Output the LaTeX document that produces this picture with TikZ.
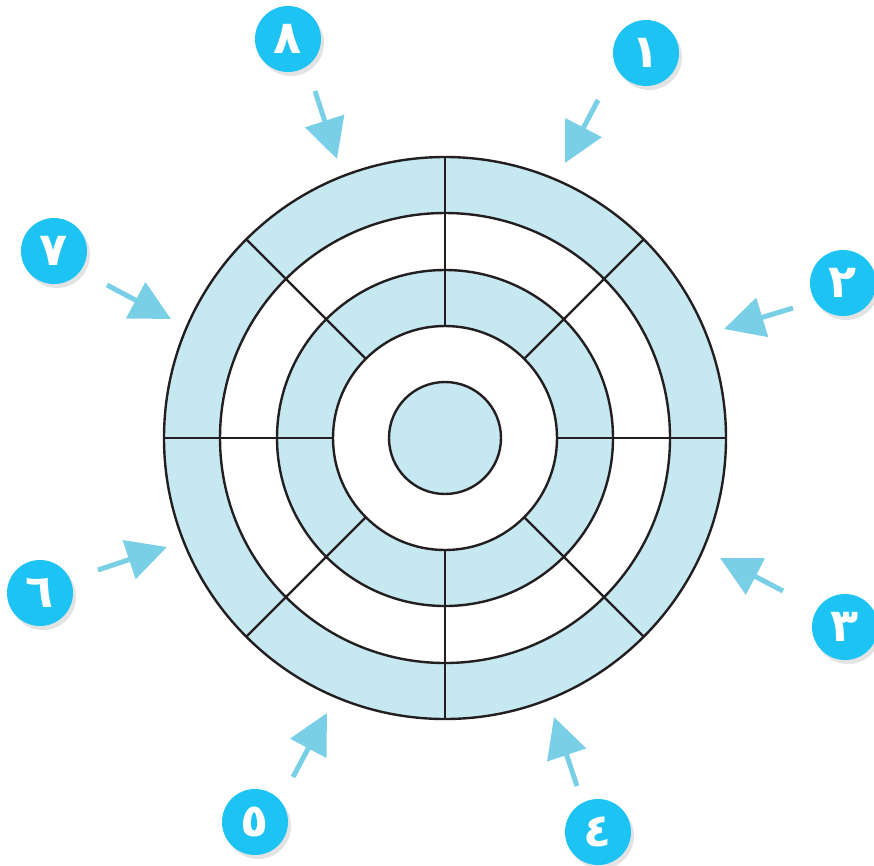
\documentclass[tikz,border=0pt]{standalone}
\usepackage{fontspec}
\newfontfamily\arabicfont[Script=Arabic]{DejaVu Sans}
\TeXXeTstate=1
\usetikzlibrary{arrows.meta, shadows}
\definecolor{ringblue}{RGB}{198, 232, 241}
\definecolor{badgeblue}{RGB}{29, 195, 243}
\definecolor{arrowblue}{RGB}{121, 207, 229}
\definecolor{inkline}{RGB}{35, 31, 32}

\begin{document}
\begin{tikzpicture}[x=1pt, y=-1pt,
   ringline/.style={draw=inkline, line width=2.4pt},
   badge/.style={circle, fill=badgeblue, minimum size=66pt, inner sep=0pt, text=white,
                 font=\arabicfont\bfseries\fontsize{46}{46}\selectfont,
                 drop shadow={opacity=0.22, shadow xshift=3pt, shadow yshift=-4pt}},
   pointer/.style={arrowblue, line width=5pt, -{Triangle[length=40pt, width=40pt]}}]
  \useasboundingbox (0,0) rectangle (874,865);
  \coordinate (c) at (445,438);
  % filled rings, outside in
  \foreach \r/\col in {281/ringblue, 225/white, 168/ringblue, 112/white, 56/ringblue}
    \fill[\col] (c) circle[radius=\r];
  \foreach \r in {281, 225, 168, 112, 56}
    \draw[ringline] (c) circle[radius=\r];
  \foreach \a in {0, 45, ..., 315}
    \draw[ringline] ([shift={(\a:112)}]c) -- ([shift={(\a:281)}]c);
  % numbered badges
  \foreach \n/\x/\y/\d in {1/646/53/١, 2/843/283/٢, 3/845/627/٣, 4/598/832/٤,
                           5/255/822/٥, 6/40/593/٦, 7/54/251/٧, 8/288/39/٨}
    \node[badge] (n\n) at (\x,\y) {\beginR\d\endR};
  % pointers towards the rings
  \foreach \n/\sx/\sy/\ex/\ey in {1/598/100/565/163, 2/793/308/724/329,
                                  3/783/591/720/558, 4/577/786/554/717,
                                  5/293/777/327/713, 6/98/570/167/547,
                                  7/107/285/171/319, 8/315/91/337/159}
  {
    \coordinate (t\n) at (\sx,\sy);
    \coordinate (h\n) at (\ex,\ey);
    \draw[pointer] (t\n) -- (h\n);
  }
\end{tikzpicture}
\end{document}
